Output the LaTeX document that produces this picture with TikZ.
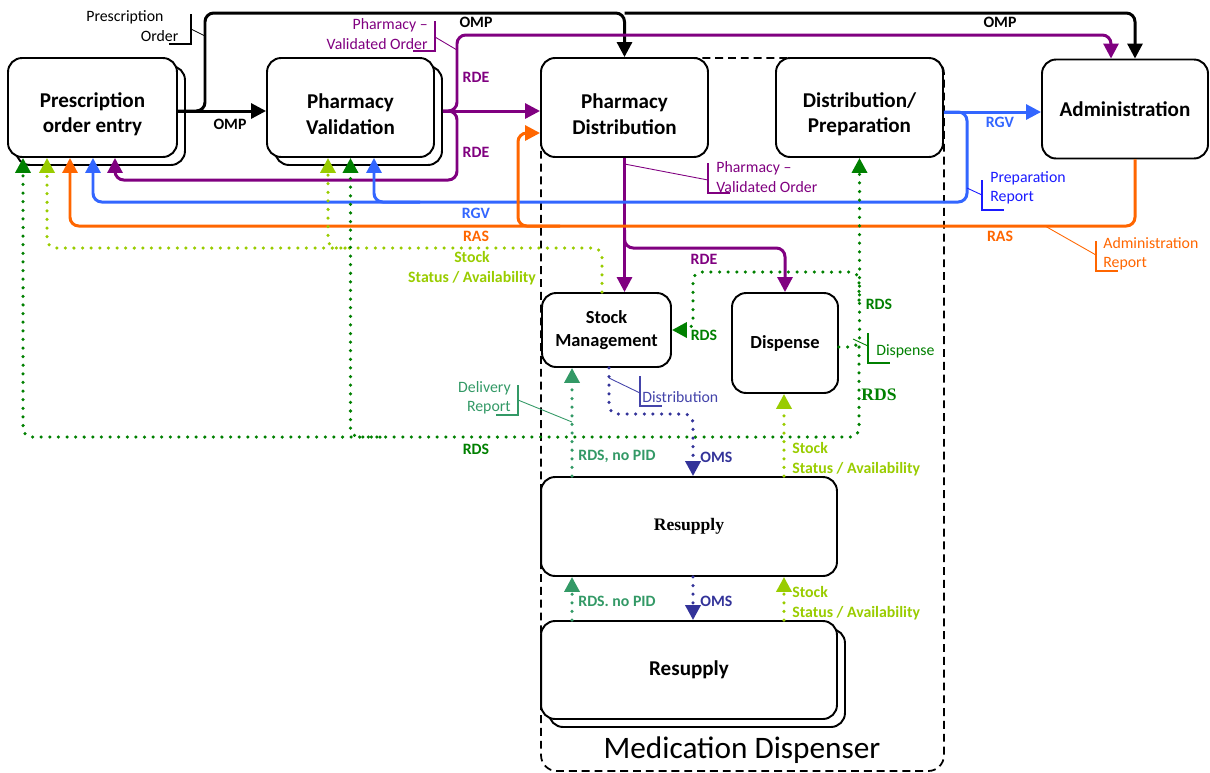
\documentclass[tikz,border=0pt]{standalone}
\usepackage{fontspec}
\setmainfont{Carlito}
\newfontfamily\timesfont{Liberation Serif}
\usetikzlibrary{arrows.meta,calc}
\definecolor{rdepurple}{HTML}{800080}
\definecolor{rgvblue}{HTML}{3366FF}
\definecolor{rasorange}{HTML}{FF6600}
\definecolor{stocklime}{HTML}{99CC00}
\definecolor{rdsgreen}{HTML}{008000}
\definecolor{delteal}{HTML}{339966}
\definecolor{omsnavy}{HTML}{333399}
\definecolor{prepblue}{HTML}{1A1AFF}
\definecolor{distnavy}{HTML}{4444AA}
\tikzset{
	box/.style={draw, line width=1.1pt, rounded corners=8pt, fill=white, align=center, inner sep=0pt, font=\fontsize{12}{14.5}\selectfont\bfseries},
	shadowbox/.style={draw, line width=1.1pt, rounded corners=8pt, fill=white, inner sep=0pt},
	msgtip/.tip={Triangle[length=8.5pt,width=8.5pt]},
	flow/.style={line width=1.7pt, rounded corners=5pt},
	dots/.style={line width=2pt, line cap=round, dash pattern=on 0pt off 4.9pt, rounded corners=5pt},
	msg/.style={font=\fontsize{9}{11.3}\selectfont\bfseries, inner sep=0pt},
	note/.style={font=\fontsize{9}{11}\selectfont, inner sep=0pt},
	noteline/.style={line width=0.5pt},
	frame/.style={line width=1pt, dash pattern=on 4.5pt off 2.8pt, rounded corners=9pt}
}
% strut that lowers two-line box texts a little
\def\lowtxt{\rule{0pt}{1.35em}}
% bracket with the text to its right (|_) and to its left (_|)
\def\brkL[#1](#2,#3){\draw[line width=0.9pt,#1] (#2,#3) -- (#2,{#3+30}) -- ({#2+22},{#3+30});}
\def\brkR[#1](#2,#3){\draw[line width=0.9pt,#1] (#2,#3) -- (#2,{#3+30}) -- ({#2-22},{#3+30});}

\begin{document}
\begin{tikzpicture}[x=0.02cm, y=-0.02cm]
		%%%%% START %%%%%
		\useasboundingbox (0,0) rectangle (1210,772);
		
		\draw[frame] (541,58) rectangle (944,771);
		\node[note, font=\fontsize{17.8}{20}\selectfont] (md) at (742,750) {Medication Dispenser};
		
		\node[shadowbox, minimum width=3.38cm, minimum height=1.98cm] (poe-s) at (100.5,115.5) {};
		\node[box, minimum width=3.38cm, minimum height=1.98cm] (poe) at (92.5,107.5) {\lowtxt Prescription\\order entry};
		\node[shadowbox, minimum width=3.34cm, minimum height=1.98cm] (pv-s) at (358.5,115.5) {};
		\node[box, minimum width=3.34cm, minimum height=1.98cm] (pv) at (350.5,107.5) {\lowtxt Pharmacy\\Validation};
		\node[box, minimum width=3.34cm, minimum height=1.98cm] (pd) at (624.5,107.5) {\lowtxt Pharmacy\\Distribution};
		\node[box, minimum width=3.34cm, minimum height=1.98cm] (dp) at (859.5,107.5) {\lowtxt Distribution/\\Preparation};
		\node[box, minimum width=3.32cm, minimum height=1.98cm] (adm) at (1125,109) {Administration};
		
		\node[box, minimum width=2.58cm, minimum height=1.48cm, font=\fontsize{10.5}{13}\selectfont\bfseries] (sm) at (606.5,330) {Stock\\Management};
		\node[box, minimum width=2.12cm, minimum height=2cm, font=\fontsize{10.5}{13}\selectfont\bfseries] (dis) at (785,343) {Dispense};
		\node[box, minimum width=5.92cm, minimum height=1.98cm, font=\timesfont\fontsize{10}{12}\selectfont\bfseries] (rs1) at (689,526.5) {Resupply};
		\node[shadowbox, minimum width=5.92cm, minimum height=1.96cm] (rs2-s) at (697,678) {};
		\node[box, minimum width=5.92cm, minimum height=1.96cm] (rs2) at (689,670) {Resupply};
		
		% OMP
		\coordinate (omp-top) at (625,13);
		\draw[flow, -msgtip] ([yshift=-0.07cm]poe.east) -- ([yshift=-0.07cm]pv.west);
		\draw[flow, -msgtip] ([yshift=-0.07cm]poe.east) -| (205,13) -| (pd.north);
		\draw[flow, -msgtip] (pd.north |- omp-top) -| ([xshift=0.2cm]adm.north);
		\node[msg] (omp-a) at (230,124) {OMP};
		\node[msg] (omp-b) at (476,22) {OMP};
		\node[msg] (omp-c) at (1000,22) {OMP};
		
		% RDE
		\coordinate (rde-src) at ([xshift=0.16cm,yshift=-0.07cm]pv.east);
		\coordinate (rde-down) at (624.5,230);
		\draw[flow, rdepurple, -msgtip] (rde-src) -- ([yshift=-0.07cm]pd.west);
		\draw[flow, rdepurple, -msgtip] (rde-src) -| (457,35) -| ([xshift=-0.28cm]adm.north);
		\draw[flow, rdepurple, -msgtip] (rde-src) -| (457,180) -| ([xshift=0.45cm]poe.south);
		\draw[flow, rdepurple, -msgtip] (pd.south) -- (pd.south |- sm.north);
		\draw[flow, rdepurple, -msgtip] (rde-down) |- (700,248) -| (dis.north);
		\node[msg, rdepurple] (rde-a) at (476,77) {RDE};
		\node[msg, rdepurple] (rde-b) at (476,152) {RDE};
		\node[msg, rdepurple] (rde-c) at (704,259) {RDE};
		
		% RGV
		\coordinate (rgv-src) at ([yshift=-0.09cm]dp.east);
		\coordinate (rgv-j) at (420,202);
		\draw[flow, rgvblue, -msgtip] (rgv-src) -- (rgv-src -| adm.west);
		\draw[flow, rgvblue, -msgtip] (rgv-src) -| (967,202) -| ([xshift=0.01cm]poe.south);
		\draw[flow, rgvblue, -msgtip] (rgv-j) -| ([xshift=0.47cm]pv.south);
		\node[msg, rgvblue] (rgv-a) at (1000,122) {RGV};
		\node[msg, rgvblue] (rgv-b) at (476,213) {RGV};
		
		% RAS
		\coordinate (ras-j) at (560,226);
		\draw[flow, rasorange, -msgtip] ([xshift=0.2cm]adm.south) |- (ras-j) -| ([xshift=-0.45cm]poe.south);
		\draw[flow, rasorange, -msgtip] (ras-j) -| (518,133) -- ([yshift=-0.51cm]pd.west);
		\node[msg, rasorange] (ras-a) at (476,236) {RAS};
		\node[msg, rasorange] (ras-b) at (1000,236) {RAS};
		
		% Stock status / availability
		\coordinate (stk-j) at (345,248);
		\draw[dots, stocklime, -msgtip] ([xshift=-0.09cm]sm.north) |- (stk-j) -| ([xshift=-0.91cm]poe.south);
		\draw[dots, stocklime, -msgtip] (stk-j) -| ([xshift=-0.45cm]pv.south);
		\draw[dots, stocklime, -msgtip] ([xshift=1.9cm]rs1.north) -- ([xshift=-0.02cm]dis.south);
		\draw[dots, stocklime, -msgtip] ([xshift=1.9cm]rs2.north) -- ([xshift=1.9cm]rs1.south);
		\node[msg, stocklime, align=center] (stk-a) at (472,268) {Stock\\Status / Availability};
		\node[msg, stocklime, align=left, anchor=west] (stk-b) at (792,459) {Stock\\Status / Availability};
		\node[msg, stocklime, align=left, anchor=west] (stk-c) at (792,603) {Stock\\Status / Availability};
		
		% RDS
		\coordinate (rds-j) at (859,347);
		\coordinate (rds-k) at (380,437);
		\coordinate (rds-loop) at (859,300);
		\draw[dots, rdsgreen, -msgtip] ([yshift=-0.08cm]dis.east) -| (dp.south);
		\draw[dots, rdsgreen, -msgtip] (rds-j) |- (rds-k) -| ([xshift=-1.39cm]poe.south);
		\draw[dots, rdsgreen, -msgtip] (rds-k) -| (pv.south);
		\draw[dots, rdsgreen, -msgtip] (rds-loop) |- (693,272) |- (sm.east);
		\node[msg, rdsgreen] (rds-a) at (476,449) {RDS};
		\node[msg, rdsgreen] (rds-b) at (704,335) {RDS};
		\node[msg, rdsgreen] (rds-c) at (879,304) {RDS};
		\node[msg, rdsgreen, font=\timesfont\fontsize{10}{12}\selectfont\bfseries] (rds-d) at (879,395) {RDS};
		
		% Delivery report and OMS
		\draw[dots, delteal, -msgtip] ([xshift=-2.34cm]rs1.north) -- ([xshift=-0.69cm]sm.south);
		\draw[dots, delteal, -msgtip] ([xshift=-2.34cm]rs2.north) -- ([xshift=-2.34cm]rs1.south);
		\draw[dots, omsnavy, -msgtip] ([xshift=0.05cm]sm.south) |- (650,414) -| ([xshift=0.08cm]rs1.north);
		\draw[dots, omsnavy, -msgtip] ([xshift=0.08cm]rs1.south) -- ([xshift=0.08cm]rs2.north);
		\node[msg, delteal, anchor=west] (nopid-a) at (578,456) {RDS, no PID};
		\node[msg, delteal, anchor=west] (nopid-b) at (578,601) {RDS. no PID};
		\node[msg, omsnavy, anchor=west] (oms-a) at (700,457) {OMS};
		\node[msg, omsnavy, anchor=west] (oms-b) at (700,601) {OMS};
		
		% callouts
		\node[note, align=left, anchor=west] (po-note) at (86,26) {Prescription\\\hspace*{3.45em}Order};
		\brkR[](191,14);
		\draw[noteline] (191,29) -- (205,36);
		
		\node[note, rdepurple, align=right, anchor=east] (pvo-note) at (428,34) {Pharmacy –\\Validated Order};
		\brkR[rdepurple](435,21);
		\draw[noteline, rdepurple] (435,37) -- (457,50);
		
		\node[note, rdepurple, align=left, anchor=west] (pdo-note) at (716,177) {Pharmacy –\\Validated Order};
		\brkL[rdepurple](708,163);
		\draw[noteline, rdepurple] (pd.south |- 0,164) -- (708,180);
		
		\node[note, prepblue, align=left, anchor=west] (prep-note) at (990,188) {Preparation\\Report};
		\brkL[prepblue](982,180);
		\draw[noteline, prepblue] (967,188) -- (982,195);
		
		\node[note, rasorange, align=left, anchor=west] (adm-note) at (1103,253.5) {Administration\\Report};
		\brkL[rasorange](1096,241);
		\draw[noteline, rasorange] (1045,226) -- (1096,255);
		
		\node[note, delteal, align=right, anchor=east] (del-note) at (511,398) {Delivery\\Report};
		\brkR[delteal](518,385);
		\draw[noteline, delteal] (518,400) -- (572,422);
		
		\node[note, distnavy, anchor=west] (dist-note) at (642,397) {Distribution};
		\brkL[distnavy](640,376);
		\draw[noteline, distnavy] (609,378) -- (640,393);
		
		\node[note, rdsgreen, anchor=west] (dis-note) at (876,351) {Dispense};
		\brkL[rdsgreen](868,333);
		\draw[noteline, rdsgreen] (853,339) -- (868,346);
		
		%%%%% END %%%%%
\end{tikzpicture}
\end{document}
